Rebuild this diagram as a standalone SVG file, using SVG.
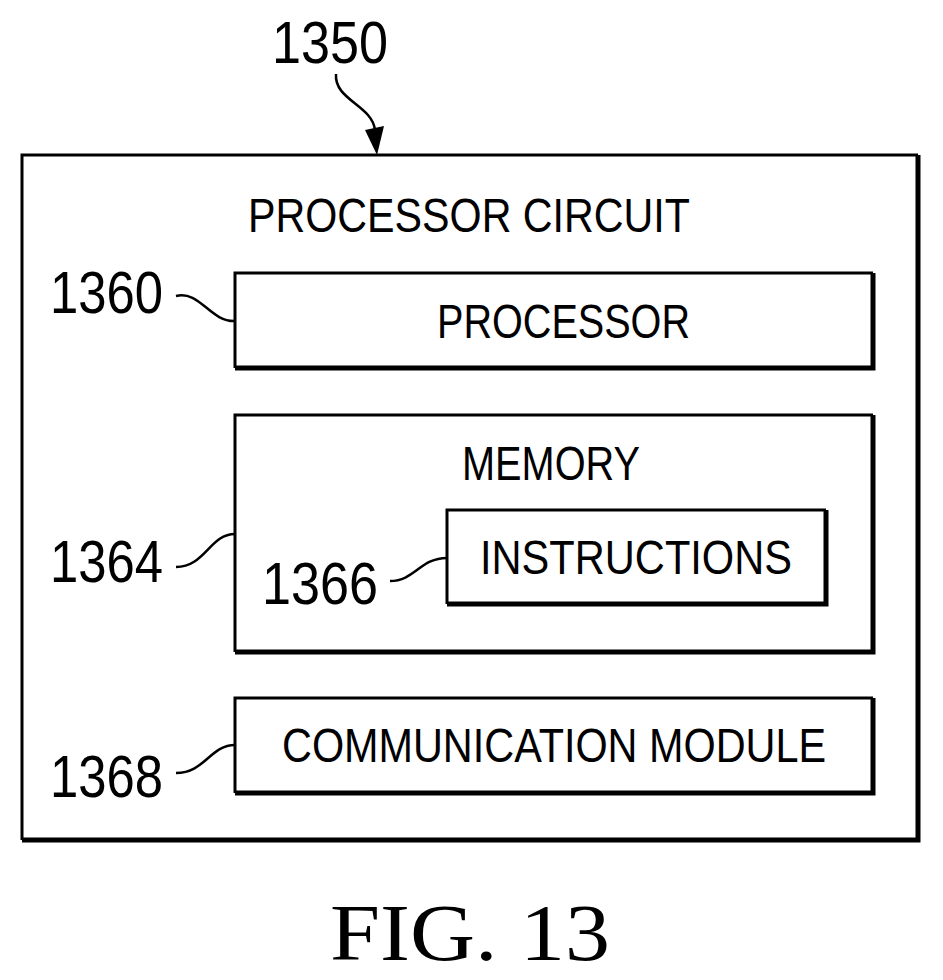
<svg xmlns="http://www.w3.org/2000/svg" width="943" height="980" viewBox="0 0 943 980">
<style>
.t{font-family:"Liberation Sans",Arial,sans-serif;fill:#000}
.l{font-size:48px}
.n{font-size:60px}
.thin{stroke:#000;stroke-width:3;fill:none}
.thk{stroke:#000;stroke-width:5;fill:none}
.ld{stroke:#000;stroke-width:2.5;fill:none}
</style>
<rect width="943" height="980" fill="#fff"/>
<g id="outer">
<path class="thin" d="M22,840 V155 H918"/><path class="thk" d="M918,155 V840 H22"/>
<text class="t l" x="248" y="232" textLength="442" lengthAdjust="spacingAndGlyphs">PROCESSOR CIRCUIT</text>
</g>
<g id="processor">
<path class="thin" d="M235,368 V273 H873"/><path class="thk" d="M873,273 V368 H235"/>
<text class="t l" x="437" y="338" textLength="253" lengthAdjust="spacingAndGlyphs">PROCESSOR</text>
</g>
<g id="memory">
<path class="thin" d="M235,652 V415 H873"/><path class="thk" d="M873,415 V652 H235"/>
<text class="t l" x="462" y="480" textLength="178" lengthAdjust="spacingAndGlyphs">MEMORY</text>
</g>
<g id="instructions">
<path class="thin" d="M447,604 V510 H826"/><path class="thk" d="M826,510 V604 H447"/>
<text class="t l" x="480" y="574" textLength="312" lengthAdjust="spacingAndGlyphs">INSTRUCTIONS</text>
</g>
<g id="comm">
<path class="thin" d="M235,793 V698 H873"/><path class="thk" d="M873,698 V793 H235"/>
<text class="t l" x="282" y="762" textLength="544" lengthAdjust="spacingAndGlyphs">COMMUNICATION MODULE</text>
</g>
<g id="labels">
<text class="t n" x="272" y="63" textLength="116" lengthAdjust="spacingAndGlyphs">1350</text>
<text class="t n" x="50" y="313" textLength="113" lengthAdjust="spacingAndGlyphs">1360</text>
<text class="t n" x="50" y="582" textLength="113" lengthAdjust="spacingAndGlyphs">1364</text>
<text class="t n" x="262" y="604" textLength="116" lengthAdjust="spacingAndGlyphs">1366</text>
<text class="t n" x="50" y="797" textLength="113" lengthAdjust="spacingAndGlyphs">1368</text>
<text x="330" y="960" font-family="Liberation Serif,serif" font-size="80" textLength="280" lengthAdjust="spacingAndGlyphs">FIG. 13</text>
</g>
<g id="connectors">
<path class="ld" d="M336,74 C334,100 372,105 375,130" stroke-width="3"/>
<path d="M365,130 L384,126 L377,155 z" fill="#000"/>
<path class="ld" d="M176,296 C200,290 210,322 235,321"/>
<path class="ld" d="M176,567 C205,567 210,534 235,534"/>
<path class="ld" d="M390,581 C415,581 420,558 447,558"/>
<path class="ld" d="M176,773 C205,773 210,745 235,745"/>
</g>
</svg>
